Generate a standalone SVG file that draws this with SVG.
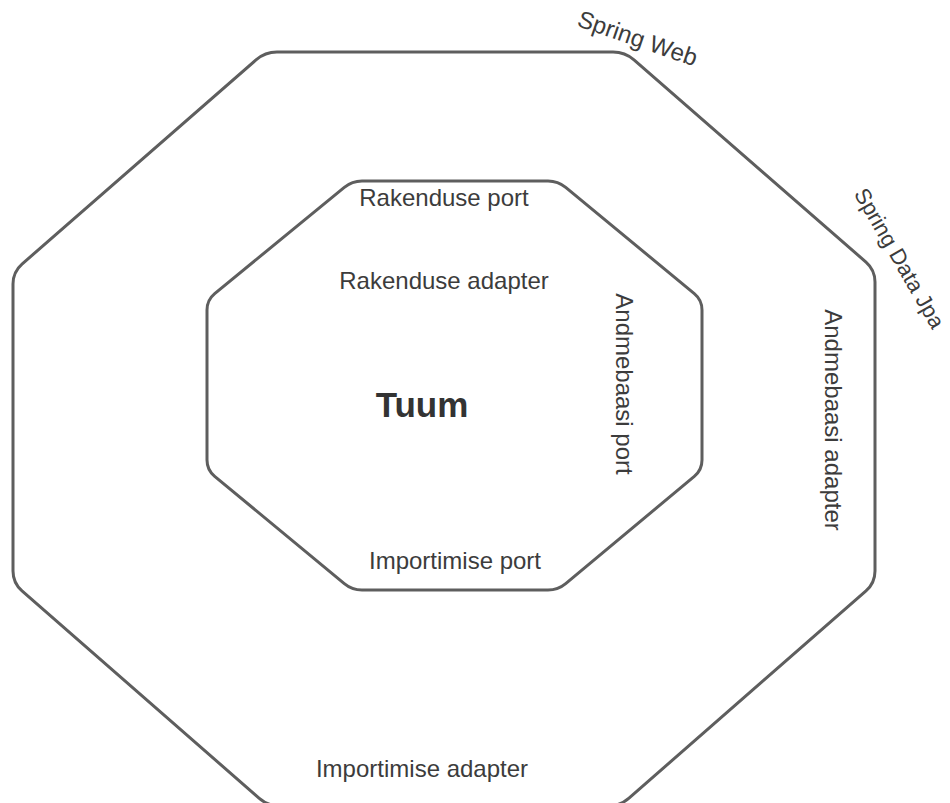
<svg xmlns="http://www.w3.org/2000/svg" width="950" height="803" viewBox="0 0 950 803">
  <style>
    .ring { fill: none; stroke: #5e5e5e; stroke-width: 3; stroke-linejoin: round; }
    .lbl { font-family: "Liberation Sans", Arial, sans-serif; font-size: 24px; fill: #3c3c3c; text-anchor: middle; }
    .fw { font-size: 22px; }
    .core { font-family: "Liberation Sans", Arial, sans-serif; font-size: 35px; font-weight: bold; fill: #333333; text-anchor: middle; }
  </style>
  <rect width="950" height="803" fill="#ffffff"/>

  <!-- Outer ring: framework adapters -->
  <g id="outer-layer">
    <path class="ring" d="M 277,52 L 613,52 Q 625,52 634,59.9 L 866,262.1 Q 875,270 875,282 L 875,571 Q 875,583 866,590.9 L 629,798.1 Q 620,806 608,806 L 280,806 Q 268,806 259,798.1 L 22,590.9 Q 13,583 13,571 L 13,284 Q 13,272 22,264.1 L 256,59.9 Q 265,52 277,52 Z"/>
    <text class="lbl" transform="translate(635,46) rotate(19)">Spring Web</text>
    <text class="lbl fw" transform="translate(893,262) rotate(60)">Spring Data Jpa</text>
    <text class="lbl" x="444" y="289">Rakenduse adapter</text>
    <text class="lbl" transform="translate(825,420) rotate(90)">Andmebaasi adapter</text>
    <text class="lbl" x="422" y="777">Importimise adapter</text>
  </g>

  <!-- Inner ring: ports -->
  <g id="inner-layer">
    <path class="ring" d="M 362,181 L 548,181 Q 558,181 565.7,187.4 L 694.3,293.6 Q 702,300 702,310 L 702,460 Q 702,470 694.3,476.4 L 565.7,583.6 Q 558,590 548,590 L 362,590 Q 352,590 344.3,583.6 L 214.7,476.4 Q 207,470 207,460 L 207,310 Q 207,300 214.7,293.6 L 344.3,187.4 Q 352,181 362,181 Z"/>
    <text class="lbl" x="444" y="206">Rakenduse port</text>
    <text class="lbl" transform="translate(616,384) rotate(90)">Andmebaasi port</text>
    <text class="lbl" x="455" y="569">Importimise port</text>
  </g>

  <!-- Domain core -->
  <g id="core">
    <text class="core" x="422" y="417">Tuum</text>
  </g>
</svg>
